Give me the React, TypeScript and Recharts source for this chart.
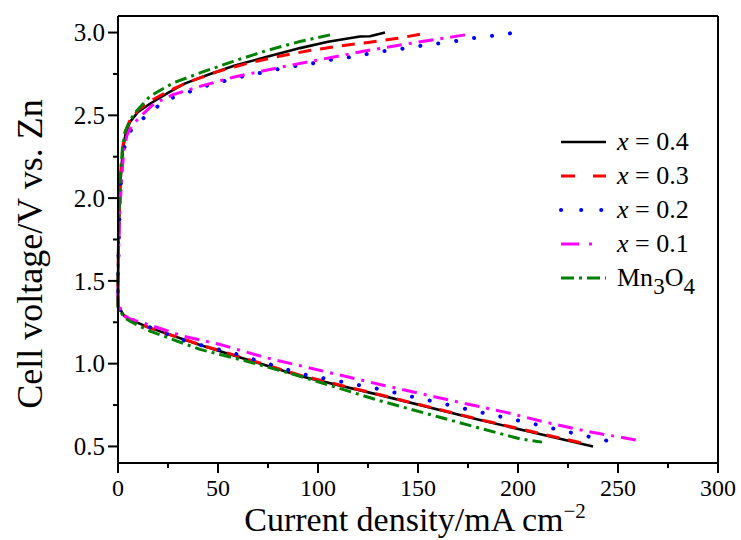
import React from 'react';
import { LineChart, Line, XAxis, YAxis, Legend, Label } from 'recharts';

type P = { x: number; v: number };

// Charge (upper) branches: [current density, voltage]
const chargeX04: [number, number][] = [[0,1.49],[0.4,1.8],[0.8,2.0],[1.5,2.15],[2.5,2.3],[4,2.4],[6,2.46],[10,2.52],[16,2.57],[25,2.635],[33,2.69],[45,2.745],[58,2.8],[75,2.855],[91,2.906],[105,2.945],[121,2.976],[126,2.978],[133.5,3.0]];
const chargeX03: [number, number][] = [[0,1.52],[0.4,1.85],[0.8,2.02],[1.5,2.18],[2.5,2.32],[4,2.41],[6,2.47],[10,2.53],[16,2.585],[25,2.645],[35,2.7],[50,2.765],[65,2.815],[80,2.855],[95,2.89],[110,2.918],[125,2.94],[140,2.965],[151,2.99]];
const chargeX02: [number, number][] = [[0,1.5],[0.5,1.8],[1,2.0],[2,2.2],[3.5,2.33],[5,2.38],[8,2.44],[13.5,2.49],[19,2.546],[23.5,2.59],[32.7,2.63],[46,2.686],[54,2.71],[62.7,2.736],[71,2.756],[78.5,2.776],[87.7,2.796],[96,2.81],[104,2.832],[113.5,2.846],[122.5,2.866],[132,2.886],[141,2.9],[149,2.916],[158.5,2.932],[167.7,2.946],[177.7,2.966],[187,2.98],[196,2.995]];
const chargeX01: [number, number][] = [[0,1.48],[0.5,1.75],[1,1.95],[2,2.15],[3,2.3],[4.5,2.38],[7,2.44],[12.7,2.51],[18,2.57],[27.7,2.626],[41,2.675],[57.6,2.73],[81,2.79],[106,2.848],[124,2.89],[146.8,2.936],[157.7,2.956],[173.5,2.986]];
const chargeMn: [number, number][] = [[0,1.49],[0.3,1.8],[0.7,2.0],[1.3,2.15],[2.2,2.3],[3.5,2.4],[6,2.47],[9.3,2.526],[16,2.616],[27.7,2.696],[41,2.756],[57.6,2.826],[74,2.89],[91,2.946],[106,2.986]];

// Discharge (lower) branches
const dischargeX04: [number, number][] = [[0,1.35],[3,1.29],[6,1.266],[16,1.216],[41,1.113],[91,0.926],[131,0.81],[181,0.66],[214,0.566],[237.5,0.5]];
const dischargeX03: [number, number][] = [[0,1.35],[3,1.29],[6,1.265],[16,1.215],[41,1.115],[91,0.93],[131,0.812],[181,0.662],[214,0.57],[236,0.51]];
const dischargeX02: [number, number][] = [[0,1.34],[3,1.29],[6,1.27],[16,1.22],[35,1.13],[56,1.07],[91,0.94],[135,0.836],[143.5,0.81],[158.5,0.77],[183.5,0.7],[207.5,0.637],[224,0.59],[242.5,0.54],[251,0.516]];
const dischargeX01: [number, number][] = [[0,1.38],[2,1.3],[6,1.27],[12.7,1.246],[32.7,1.166],[51,1.116],[74,1.036],[132.5,0.87],[152.5,0.816],[171,0.766],[194,0.706],[212.5,0.65],[235,0.59],[251,0.556],[262,0.533]];
const dischargeMn: [number, number][] = [[0,1.34],[3,1.28],[6,1.256],[16,1.196],[41,1.086],[64,1.016],[87.7,0.936],[131,0.776],[161,0.676],[181,0.61],[201,0.546],[212,0.526]];

const xTicks = [0, 25, 50, 75, 100, 125, 150, 175, 200, 225, 250, 275, 300];
const yTicks = [0.5, 0.75, 1.0, 1.25, 1.5, 1.75, 2.0, 2.25, 2.5, 2.75, 3.0];

const build = (up: [number, number][], down: [number, number][]): P[] => [
  ...[...up].reverse().map(([x, v]) => ({ x, v })),
  ...down.map(([x, v]) => ({ x, v })),
];

const series = [
  { name: 'x04', label: '0.4', data: build(chargeX04, dischargeX04), color: '#000000', dash: undefined, legendDash: undefined, width: 2.6, cap: 'butt' },
  { name: 'x03', label: '0.3', data: build(chargeX03, dischargeX03), color: '#ff0000', dash: '13 9', legendDash: '14 18', width: 3, cap: 'butt' },
  { name: 'x02', label: '0.2', data: build(chargeX02, dischargeX02), color: '#0000ff', dash: '0.1 18', legendDash: '0.1 20', width: 4, cap: 'round' },
  { name: 'x01', label: '0.1', data: build(chargeX01, dischargeX01), color: '#ff00ff', dash: '15 7 3 7', legendDash: '18 10 3 20', width: 3, cap: 'butt' },
  { name: 'mn', label: 'Mn3O4', data: build(chargeMn, dischargeMn), color: '#008000', dash: '12 5 3 5', legendDash: '13 5 3 5', width: 3, cap: 'butt' },
];

const FONT = '"Liberation Serif", "Times New Roman", serif';
const PLOT_LEFT = 118;
const PLOT_BOTTOM = 463;

const XTick = (props: any) => {
  const { payload } = props;
  const x = props.x;
  const v = payload.value;
  const major = v % 50 === 0;
  return (
    <g>
      <line x1={x} x2={x} y1={PLOT_BOTTOM} y2={PLOT_BOTTOM + (major ? 10 : 5)} stroke="#000" strokeWidth={2} />
      {major && (
        <text x={x} y={PLOT_BOTTOM + 16} dy="0.71em" textAnchor="middle" fontSize={24} fontFamily={FONT} fill="#000">
          {v}
        </text>
      )}
    </g>
  );
};

const YTick = (props: any) => {
  const { payload } = props;
  const y = props.y;
  const v = payload.value;
  const major = Math.abs(v * 2 - Math.round(v * 2)) < 1e-6;
  return (
    <g>
      <line x1={PLOT_LEFT - (major ? 10 : 5)} x2={PLOT_LEFT} y1={y} y2={y} stroke="#000" strokeWidth={2} />
      {major && (
        <text x={PLOT_LEFT - 13} y={y} dy="0.35em" textAnchor="end" fontSize={25} fontFamily={FONT} fill="#000">
          {v.toFixed(1)}
        </text>
      )}
    </g>
  );
};

const renderLegend = () => (
  <div style={{ fontFamily: FONT, fontSize: 26, color: '#000' }}>
    {series.map((s) => (
      <div key={s.name} style={{ display: 'flex', alignItems: 'center', height: 34 }}>
        <svg width={48} height={10} style={{ marginRight: 10 }}>
          <line x1={2} x2={47} y1={5} y2={5} stroke={s.color} strokeWidth={s.width} strokeDasharray={s.legendDash} strokeLinecap={s.cap as any} />
        </svg>
        {s.name === 'mn' ? (
          <span style={{ lineHeight: '30px' }}>
            Mn<span style={{ fontSize: 23, position: 'relative', top: 8 }}>3</span>O<span style={{ fontSize: 23, position: 'relative', top: 8 }}>4</span>
          </span>
        ) : (
          <span style={{ lineHeight: '30px' }}>
            <i>x</i> = {s.label}
          </span>
        )}
      </div>
    ))}
  </div>
);

export default function App() {
  return (
    <div style={{ position: 'absolute', left: 0, top: 0, width: 741, height: 540, background: '#fff' }}>
      <LineChart width={741} height={540} margin={{ top: 15, right: 22, bottom: 17, left: 38 }}>
        <XAxis
          dataKey="x"
          type="number"
          domain={[0, 300]}
          ticks={xTicks}
          interval={0}
          tick={<XTick />}
          tickLine={false}
          axisLine={{ stroke: '#000', strokeWidth: 2 }}
          height={60}
        >
          <Label
            content={() => (
              <text x={415} y={531} textAnchor="middle" fontSize={34} fontFamily={FONT} fill="#000">
                Current density/mA cm
                <tspan dy={-13} fontSize={21}>−2</tspan>
              </text>
            )}
          />
        </XAxis>
        <XAxis xAxisId="top" orientation="top" type="number" domain={[0, 300]} tick={false} tickLine={false} axisLine={{ stroke: '#000', strokeWidth: 2 }} height={1} />
        <YAxis
          type="number"
          domain={[0.4, 3.1]}
          ticks={yTicks}
          interval={0}
          tick={<YTick />}
          tickLine={false}
          axisLine={{ stroke: '#000', strokeWidth: 2 }}
          width={80}
        >
          <Label
            content={() => (
              <text x={42} y={254} transform="rotate(-90 42 254)" textAnchor="middle" fontSize={36} fontFamily={FONT} fill="#000">
                Cell voltage/V vs. Zn
              </text>
            )}
          />
        </YAxis>
        <YAxis yAxisId="right" orientation="right" type="number" domain={[0.4, 3.1]} tick={false} tickLine={false} axisLine={{ stroke: '#000', strokeWidth: 2 }} width={1} />
        {series.map((s) => (
          <Line
            key={s.name}
            data={s.data}
            dataKey="v"
            name={s.name}
            type="linear"
            stroke={s.color}
            strokeWidth={s.width}
            strokeDasharray={s.dash}
            strokeLinecap={s.cap as any}
            dot={false}
            activeDot={false}
            isAnimationActive={false}
          />
        ))}
        <Legend
          content={renderLegend}
          layout="vertical"
          align="center"
          verticalAlign="middle"
          wrapperStyle={{ position: 'absolute', left: 559, top: 125, width: 180 }}
        />
      </LineChart>
    </div>
  );
}
